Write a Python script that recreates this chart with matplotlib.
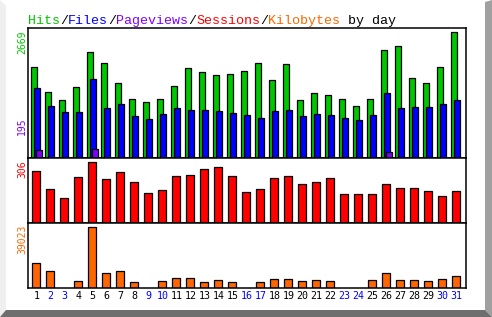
import matplotlib
matplotlib.use('Agg')
import matplotlib.pyplot as plt
from matplotlib.patches import Polygon

# daily usage numbers
days = list(range(1, 32))
hits = [1926, 1395, 1225, 1501, 2244, 2010, 1586, 1246, 1183, 1246,
        1522, 1904, 1819, 1756, 1777, 1841, 2010, 1650, 1989, 1225,
        1374, 1331, 1246, 1098, 1246, 2287, 2371, 1692, 1586, 1926, 2669]
files = [1480, 1098, 970, 970, 1671, 1055, 1140, 885, 822, 928,
         1055, 1013, 1013, 991, 949, 907, 843, 991, 1013, 885,
         928, 907, 843, 800, 907, 1374, 1055, 1076, 1076, 1140, 1225]
pageviews = [165, 0, 0, 0, 195, 0, 0, 0, 0, 0,
             0, 0, 0, 0, 0, 0, 0, 0, 0, 0,
             0, 0, 0, 0, 0, 120, 0, 0, 0, 0, 0]
sessions = [261, 171, 125, 231, 306, 221, 256, 206, 150, 166,
            236, 241, 271, 281, 236, 155, 171, 226, 236, 196,
            206, 226, 145, 145, 145, 196, 176, 176, 160, 135, 160]
kbytes = [15993, 10875, 0, 4478, 39023, 9596, 10875, 3838, 0, 4478,
          6397, 6397, 3838, 5118, 3838, 0, 3838, 5757, 5757, 4478,
          5118, 4478, 0, 0, 5118, 9596, 5118, 5118, 4478, 5757, 7677]
weekend_days = [2, 3, 9, 10, 16, 17, 23, 24, 30, 31]

C_HITS = '#00c800'
C_FILES = '#0000ff'
C_PAGES = '#8000ff'
C_SESS = '#ff0000'
C_KB = '#ff6600'

W, H = 492, 317
fig = plt.figure(figsize=(W / 100, H / 100), dpi=100)
fig.patch.set_facecolor('white')


def fx(x):
    return x / W


def fy(y):
    return 1 - y / H


def panel(top, bottom, ymax):
    ax = fig.add_axes([fx(28), fy(bottom), fx(466) - fx(28), fy(top) - fy(bottom)])
    ax.set_xlim(1 - 8.3 / 14, 31 + 9.7 / 14)
    ax.set_ylim(0, ymax)
    ax.set_xticks([])
    ax.set_yticks([])
    for s in ax.spines.values():
        s.set_linewidth(1.1)
    return ax


edge = dict(edgecolor='black', linewidth=0.9)

ax1 = panel(28, 158, max(hits) * 130 / 125.7)
ax1.bar([d - 2 / 14 for d in days], hits, width=6 / 14, color=C_HITS, **edge)
ax1.bar([d + 1 / 14 for d in days], files, width=6 / 14, color=C_FILES, **edge)
pv_days = [d for d, v in zip(days, pageviews) if v > 0]
pv_vals = [v for v in pageviews if v > 0]
ax1.bar([d + 3 / 14 for d in pv_days], pv_vals, width=6 / 14, color=C_PAGES, **edge)

ax2 = panel(158, 223, max(sessions) * 65 / 61)
ax2.bar(days, sessions, width=8 / 14, color=C_SESS, **edge)

ax3 = panel(223, 288, max(kbytes) * 65 / 61)
kb_days = [d for d, v in zip(days, kbytes) if v > 0]
kb_vals = [v for v in kbytes if v > 0]
ax3.bar(kb_days, kb_vals, width=8 / 14, color=C_KB, **edge)

# day labels under the bottom panel
for d in days:
    ax3.text(d, -0.13, str(d), transform=ax3.get_xaxis_transform(),
             ha='center', va='center', fontsize=7.2, family='DejaVu Sans Mono',
             color='#0000ff' if d in weekend_days else 'black')

# rotated max labels on the left
lab = dict(rotation=90, ha='center', fontsize=7, family='DejaVu Sans Mono')
fig.text(fx(22), fy(30), str(max(hits)), va='top', color=C_HITS, **lab)
fig.text(fx(22), fy(135), str(max(pageviews)), va='bottom', color=C_PAGES, **lab)
fig.text(fx(22), fy(160), str(max(sessions)), va='top', color=C_SESS, **lab)
fig.text(fx(22), fy(225), str(max(kbytes)), va='top', color=C_KB, **lab)

# title in coloured pieces, monospace so we can step by character
parts = [('Hits', C_HITS), ('/', 'black'), ('Files', C_FILES), ('/', 'black'),
         ('Pageviews', C_PAGES), ('/', 'black'), ('Sessions', C_SESS),
         ('/', 'black'), ('Kilobytes', C_KB), (' by day', 'black')]
pos = 0
for txt, col in parts:
    fig.text(fx(28 + 8 * pos), fy(24), txt, color=col, fontsize=9.6,
             family='Liberation Mono', ha='left', va='baseline')
    pos += len(txt)

# bevelled frame around the image
fig.patches.append(Polygon([(fx(0), fy(0)), (fx(6), fy(6)), (fx(6), fy(310)),
                            (fx(0), fy(317))], closed=True, transform=fig.transFigure,
                           facecolor='#efefef', edgecolor='none'))
fig.patches.append(Polygon([(fx(485), fy(2)), (fx(492), fy(0)), (fx(492), fy(317)),
                            (fx(485), fy(310))], closed=True, transform=fig.transFigure,
                           facecolor='#a0a0a0', edgecolor='none'))
fig.patches.append(Polygon([(fx(6), fy(310)), (fx(485), fy(310)), (fx(492), fy(317)),
                            (fx(0), fy(317))], closed=True, transform=fig.transFigure,
                           facecolor='#6e6e6e', edgecolor='none'))

fig.savefig('out.png', dpi=100)
